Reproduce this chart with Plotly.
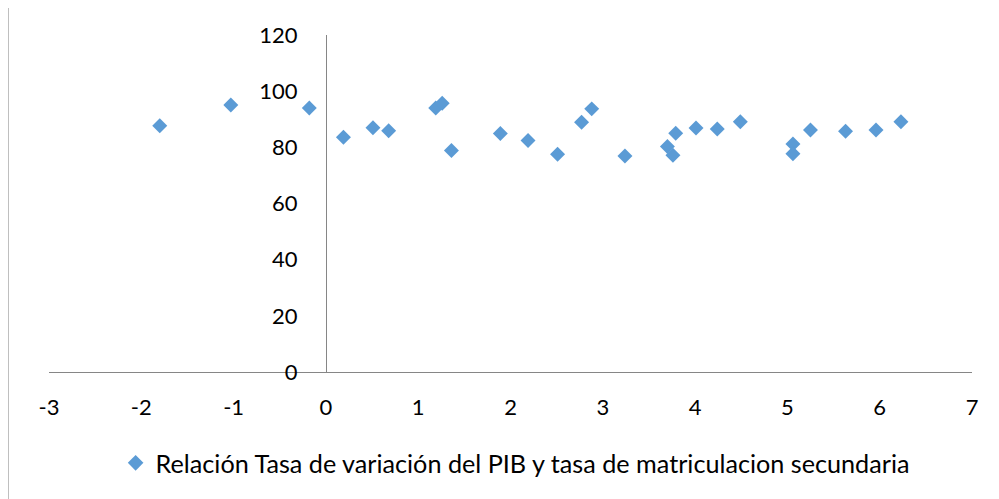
import plotly.graph_objects as go

# Data
pib_variacion = [-1.80, -1.03, -0.18, 0.19, 0.51, 0.68, 1.19, 1.26, 1.36, 1.89,
                 2.19, 2.51, 2.77, 2.88, 3.24, 3.70, 3.76, 3.79, 4.01, 4.24,
                 4.49, 5.06, 5.06, 5.25, 5.63, 5.96, 6.23]
matriculacion_secundaria = [87.7, 95.1, 94.0, 83.6, 87.0, 85.9, 94.0, 95.7, 78.9, 84.9,
                            82.4, 77.5, 88.9, 93.7, 76.9, 80.3, 77.2, 85.0, 86.9, 86.5,
                            89.1, 81.2, 77.7, 86.2, 85.7, 86.2, 89.1]
series_name = "Relación Tasa de variación del PIB y tasa de matriculacion secundaria"
x_ticks = [-3, -2, -1, 0, 1, 2, 3, 4, 5, 6, 7]
x_tick_labels = ["-3", "-2", "-1", "0", "1", "2", "3", "4", "5", "6", "7"]
y_ticks = [0, 20, 40, 60, 80, 100, 120]
y_tick_labels = ["0", "20", "40", "60", "80", "100", "120"]

FONT = "Lato"
AXIS_COLOR = "#868686"

fig = go.Figure()
fig.add_trace(go.Scatter(
    x=pib_variacion, y=matriculacion_secundaria, mode="markers",
    name=series_name,
    marker=dict(symbol="diamond", size=11.5, color="#5B9BD5", line=dict(width=0)),
))

fig.update_layout(
    width=991, height=491,
    margin=dict(l=41, r=27, t=27, b=127, autoexpand=False),
    paper_bgcolor="white", plot_bgcolor="white",
    font=dict(family=FONT, size=22, color="#000000"),
    showlegend=True,
    legend=dict(orientation="h", x=0.505, xanchor="center", y=-0.27, yanchor="middle",
                font=dict(family=FONT, size=25.2), itemsizing="constant",
                itemwidth=30),
    xaxis=dict(range=[-3, 7], tickvals=x_ticks, ticktext=x_tick_labels,
               showgrid=False, zeroline=False,
               showline=True, linecolor=AXIS_COLOR, linewidth=1,
               ticks="", ticklabelstandoff=16, anchor="y"),
    yaxis=dict(range=[0, 120], tickvals=y_ticks, ticktext=y_tick_labels,
               showgrid=False, zeroline=False,
               showline=True, linecolor=AXIS_COLOR, linewidth=1,
               ticks="", anchor="free", position=0.3, ticklabelstandoff=24),
    shapes=[dict(type="rect", xref="paper", yref="paper",
                 x0=-0.0444, x1=1.036, y0=-0.395, y1=1.086,
                 line=dict(color="#A0A0A0", width=1.3), fillcolor="rgba(0,0,0,0)",
                 layer="below")],
)

fig.write_html("out.html")
